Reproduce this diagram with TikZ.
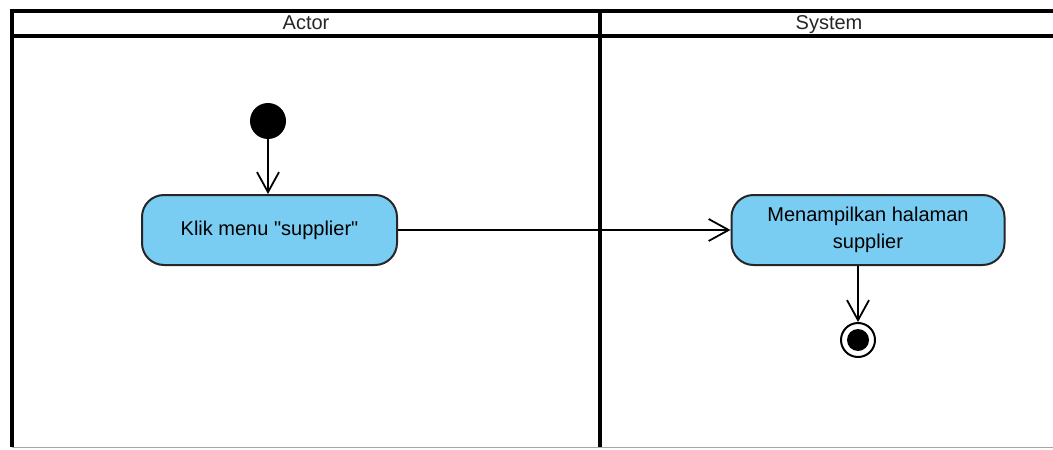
\documentclass[tikz,border=0pt]{standalone}
\usepackage{fontspec}
\setmainfont{Liberation Sans}
\usetikzlibrary{arrows.meta}
\definecolor{actfill}{RGB}{122,205,242}
\tikzset{
    lane/.style={line width=1.8pt},
    lanetitle/.style={text=black!85,anchor=base},
    action/.style={draw=black!85,line width=1pt,fill=actfill,rounded corners=11pt,
        minimum height=35pt,align=center,font=\fontsize{10}{13.5}\selectfont},
    startdot/.style={circle,fill=black,minimum size=18pt,inner sep=0pt},
    enddot/.style={circle,draw=black,line width=1pt,minimum size=17pt,inner sep=0pt,
        path picture={\fill[black] (path picture bounding box.center) circle (5.5pt);}},
    flow/.style={line width=0.9pt,-{Straight Barb[length=10pt,width=11pt,line width=0.9pt]}},
}

\begin{document}
\begin{tikzpicture}[x=0.5pt,y=-0.5pt,font=\fontsize{10}{12}\selectfont]
    \useasboundingbox (0,0) rectangle (1053,449);
    % swimlanes
    \draw[lane] (1053,11) -- (12,11) -- (12,447);
    \draw[lane] (12,36) -- (1053,36);
    \draw[lane] (600,11) -- (600,447);
    \draw[gray!70,line width=0.8pt] (12,447.5) -- (1053,447.5);
    \node[lanetitle] (actor) at (306,30) {Actor};
    \node[lanetitle] (system) at (829,30) {System};
    % activities
    \node[startdot] (start) at (268,121) {};
    \node[action,minimum width=127.5pt] (klik) at (269.5,230) {Klik menu \textquotedbl supplier\textquotedbl};
    \node[action,minimum width=136.5pt] (tampil) at (868,230) {Menampilkan halaman\\supplier};
    \node[enddot] (end) at (858,340) {};
    \draw[flow] (start) -- (start |- klik.north);
    \draw[flow] (klik) -- (tampil);
    \draw[flow] (tampil.south -| end) -- (end);
\end{tikzpicture}
\end{document}
